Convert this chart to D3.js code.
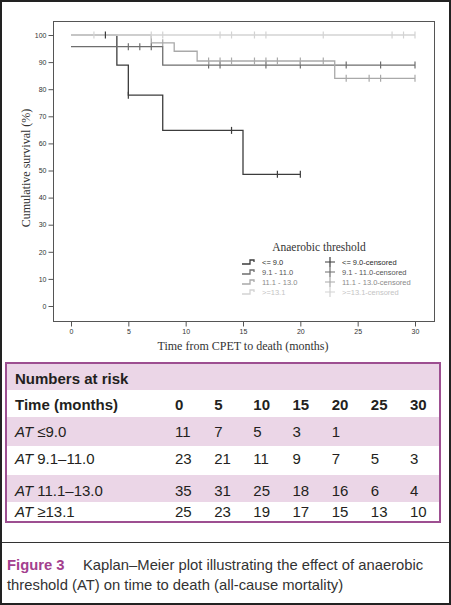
<!DOCTYPE html>
<html><head><meta charset="utf-8">
<script src="https://cdn.jsdelivr.net/npm/d3@7"></script>
<style>
html,body{margin:0;padding:0;background:#fff;}
svg{display:block;}
</style></head>
<body>
<script>
// ---------- DATA ----------
const groups = ["<= 9.0", "9.1 - 11.0", "11.1 - 13.0", ">=13.1"];
const groupColors = ["#3c3c3c", "#6e6e6e", "#a9a9a9", "#d3d3d3"];
const legendTextColors = ["#2a2a2a", "#555", "#8a8a8a", "#c4c4c4"];
// step curves: [time (months), cumulative survival (%)]
const curveLe9 = [[0,100],[4,88.9],[5,77.8],[8,64.8],[15,48.6],[20,48.6]];
const curve9to11 = [[0,95.7],[8,88.9],[30,88.9]];
const curve11to13 = [[0,100],[7,97.1],[9,94.0],[11,90.4],[23,84.0],[30,84.0]];
const curveGe13 = [[0,100],[30,100]];
// censored times
const censLe9 = [3,5,14,18,20];
const cens9to11 = [5,6,7,12,13,17,20,24,27,30];
const cens11to13 = [8,12,13,14,16,17,18,20,22,24,26,27,30];
const censGe13 = [2,7,8,13,14,16,17,22,28,29,30];
const xTicks = [0,5,10,15,20,25,30];
const yTicks = [0,10,20,30,40,50,60,70,80,90,100];
// numbers at risk table
const riskTimes = [0,5,10,15,20,25,30];
const riskLabels = ["≤9.0", "9.1–11.0", "11.1–13.0", "≥13.1"];
const riskLe9 = [11,7,5,3,1,null,null];
const risk9to11 = [23,21,11,9,7,5,3];
const risk11to13 = [35,31,25,18,16,6,4];
const riskGe13 = [25,23,19,17,15,13,10];

// ---------- DRAW ----------
const W = 451, H = 605;
const svg = d3.select("body").append("svg").attr("width", W).attr("height", H);
svg.append("rect").attr("x",0).attr("y",0).attr("width",W).attr("height",H).attr("fill","#fff");

const x = d3.scaleLinear().domain([0,30]).range([71,415]);
const y = d3.scaleLinear().domain([0,100]).range([306,35]);

// plot frame
svg.append("rect").attr("x",53.5).attr("y",21.5).attr("width",381).attr("height",300)
  .attr("fill","none").attr("stroke","#555").attr("stroke-width",1);

const yAxis = svg.append("g").attr("transform","translate(53.5,0)")
  .call(d3.axisLeft(y).tickValues(yTicks).tickSize(5).tickPadding(2));
const xAxis = svg.append("g").attr("transform","translate(0,321.5)")
  .call(d3.axisBottom(x).tickValues(xTicks).tickSize(5).tickPadding(3));
[yAxis, xAxis].forEach(a => {
  a.select(".domain").remove();
  a.selectAll("line").attr("stroke","#555");
  a.selectAll("text").attr("font-family","Liberation Sans, Arial, sans-serif")
    .attr("font-size",7).attr("fill","#333");
});

svg.append("text").attr("transform","translate(30,168) rotate(-90)")
  .attr("text-anchor","middle").attr("font-family","Liberation Serif, Times New Roman, serif")
  .attr("font-size",12).attr("fill","#333").text("Cumulative survival (%)");
svg.append("text").attr("x",243).attr("y",350)
  .attr("text-anchor","middle").attr("font-family","Liberation Serif, Times New Roman, serif")
  .attr("font-size",12).attr("fill","#333").text("Time from CPET to death (months)");

const curves = [curveLe9, curve9to11, curve11to13, curveGe13];
const censors = [censLe9, cens9to11, cens11to13, censGe13];
const line = d3.line().x(d=>x(d[0])).y(d=>y(d[1])).curve(d3.curveStepAfter);
function survAt(curve, t){
  let v = curve[0][1];
  for (const p of curve){ if (p[0] <= t) v = p[1]; }
  return v;
}
// darkest first, lighter groups drawn on top
[0,1,2,3].forEach(i => {
  svg.append("path").datum(curves[i]).attr("d", line)
    .attr("fill","none").attr("stroke",groupColors[i]).attr("stroke-width",1.3);
});
[0,1,2,3].forEach(i => {
  svg.append("g").selectAll("line").data(censors[i]).join("line")
    .attr("x1", t=>x(t)).attr("x2", t=>x(t))
    .attr("y1", t=>y(survAt(curves[i], t))-3.5).attr("y2", t=>y(survAt(curves[i], t))+3.5)
    .attr("stroke",groupColors[i]).attr("stroke-width",1.2);
});

// legend
const lg = svg.append("g");
lg.append("text").attr("x",319).attr("y",251).attr("text-anchor","middle")
  .attr("font-family","Liberation Serif, Times New Roman, serif").attr("font-size",11.5)
  .attr("fill","#333").text("Anaerobic threshold");
groups.forEach((g,i) => {
  const yy = 262 + i*10;
  lg.append("path").attr("d",`M242,${yy+2}H250V${yy-2}H254V${yy}`)
    .attr("fill","none").attr("stroke",groupColors[i]).attr("stroke-width",1.3);
  lg.append("text").attr("x",262).attr("y",yy+2.5)
    .attr("font-family","Liberation Sans, Arial, sans-serif").attr("font-size",7.5)
    .attr("fill",legendTextColors[i]).text(g);
  lg.append("path").attr("d",`M325,${yy}H335M330,${yy-5}V${yy+5}`)
    .attr("stroke",groupColors[i]).attr("stroke-width",1.2);
  lg.append("text").attr("x",342).attr("y",yy+2.5)
    .attr("font-family","Liberation Sans, Arial, sans-serif").attr("font-size",7.5)
    .attr("fill",legendTextColors[i]).text(g + "-censored");
});

// ---------- TABLE ----------
const pink = "#ebd6e7", border = "#9d4f91", txt = "#231f20";
const tbl = svg.append("g");
const rowTops = [363, 390, 417, 446, 475, 502, 522];
const rowFill = [pink, "#fff", pink, "#fff", pink, "#fff"];
rowFill.forEach((f,i) => {
  tbl.append("rect").attr("x",6).attr("y",rowTops[i]).attr("width",434)
    .attr("height",rowTops[i+1]-rowTops[i]).attr("fill",f);
});
tbl.append("rect").attr("x",6).attr("y",363).attr("width",434).attr("height",159)
  .attr("fill","none").attr("stroke",border).attr("stroke-width",2);

const colX = d3.scalePoint().domain(riskTimes).range([175,410]);
const font = "Liberation Sans, Arial, sans-serif";
tbl.append("text").attr("x",15).attr("y",384).attr("font-family",font).attr("font-size",15)
  .attr("font-weight","bold").attr("fill",txt).text("Numbers at risk");
tbl.append("text").attr("x",15).attr("y",410).attr("font-family",font).attr("font-size",15)
  .attr("font-weight","bold").attr("fill",txt).text("Time (months)");
riskTimes.forEach(t => {
  tbl.append("text").attr("x",colX(t)).attr("y",410).attr("font-family",font).attr("font-size",15)
    .attr("font-weight","bold").attr("fill",txt).text(t);
});
const riskRows = [riskLe9, risk9to11, risk11to13, riskGe13];
const baselines = [437, 464, 496, 517];
riskRows.forEach((row,i) => {
  const t = tbl.append("text").attr("x",15).attr("y",baselines[i]).attr("font-family",font)
    .attr("font-size",15).attr("fill",txt);
  t.append("tspan").attr("font-style","italic").text("AT");
  t.append("tspan").text(" " + riskLabels[i]);
  row.forEach((v,j) => {
    if (v === null) return;
    tbl.append("text").attr("x",colX(riskTimes[j])).attr("y",baselines[i]).attr("font-family",font)
      .attr("font-size",15).attr("fill",txt).text(v);
  });
});

// caption
svg.append("line").attr("x1",1).attr("x2",450).attr("y1",542.5).attr("y2",542.5)
  .attr("stroke","#333").attr("stroke-width",1);
const cap1 = svg.append("text").attr("x",7).attr("y",570).attr("font-family",font)
  .attr("font-size",14.8).attr("fill","#333");
cap1.append("tspan").attr("font-weight","bold").attr("fill","#a3408e").text("Figure 3");
cap1.append("tspan").attr("x",83).text("Kaplan–Meier plot illustrating the effect of anaerobic");
svg.append("text").attr("x",7).attr("y",590).attr("font-family",font)
  .attr("font-size",14.8).attr("fill","#333")
  .text("threshold (AT) on time to death (all-cause mortality)");

// outer border
svg.append("rect").attr("x",1).attr("y",1).attr("width",W-2).attr("height",H-2)
  .attr("fill","none").attr("stroke","#222").attr("stroke-width",2);
</script>
</body></html>
